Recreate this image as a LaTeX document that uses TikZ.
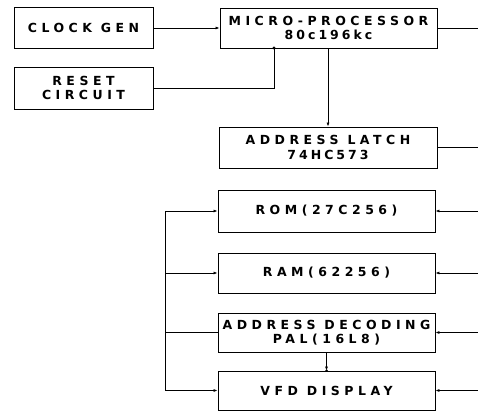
\documentclass[tikz,border=0pt]{standalone}
\usepackage{fontspec}
\usepackage{tikz}
\usetikzlibrary{
    arrows.meta,
    positioning
}
\newfontfamily\blkfont[LetterSpace=36]{DejaVu Sans}
\newfontfamily\partfont[LetterSpace=24]{DejaVu Sans}

\tikzset{
    blk/.style={draw, line width=0.9pt, inner sep=0pt, align=center,
        font=\blkfont\bfseries\fontsize{12.5}{14.5}\selectfont},
    wire/.style={line width=0.7pt},
    feed/.style={wire, -{Latex[length=4pt,width=3pt]}}
}
\newcommand{\partno}[1]{{\partfont #1}}

\begin{document}
\begin{tikzpicture}[x=1pt,y=-1pt]
\useasboundingbox (0,0) rectangle (478,411);

% left column
\node[blk, minimum width=139, minimum height=41] (clk) at (83.5,28) {CLOCK GEN};
\node[blk, minimum width=139, minimum height=42] (rst) at (83.5,88) {RESET\\CIRCUIT};

% main column
\node[blk, minimum width=217, minimum height=40] (mpu) at (328.5,28)
    {MICRO-PROCESSOR\\\partno{80c196kc}};
\node[blk, minimum width=218, minimum height=41] (latch) at (328,147.5)
    {ADDRESS LATCH\\\partno{74HC573}};
\node[blk, minimum width=217, minimum height=42] (rom) at (326.5,211) {ROM(27C256)};
\node[blk, minimum width=217, minimum height=40] (ram) at (326.5,273) {RAM(62256)};
\node[blk, minimum width=217, minimum height=39] (dec) at (326.5,332.5)
    {ADDRESS DECODING\\PAL(16L8)};
\node[blk, minimum width=217, minimum height=39] (vfd) at (326.5,390.5) {VFD DISPLAY};

% free ends
\coordinate (rstin) at (274,48);
\coordinate (bus) at (165,0);
\coordinate (edge) at (478,0);

% clock and reset
\draw[feed] (clk.east) -- (clk.east -| mpu.west);
\draw[wire] (rst.east) -| (rstin);
\fill (rstin) circle (1.6);

% processor to latch
\draw[feed] (mpu.south -| latch.north) -- (latch.north);

% right side
\draw[wire] (mpu.east) -- (mpu.east -| edge);
\draw[wire] (latch.east) -- (latch.east -| edge);
\foreach \b in {rom,ram,dec,vfd}{
    \draw[feed] (\b.east -| edge) -- (\b.east);
}

% left bus
\draw[feed] (bus |- vfd.west) |- (rom.west);
\draw[feed] (bus |- ram.west) -- (ram.west);
\draw[wire] (bus |- dec.west) -- (dec.west);
\draw[feed] (bus |- vfd.west) -- (vfd.west);

% decoder to display
\draw[feed] (dec.south) -- (vfd.north);
\fill (vfd.north) circle (1.3);

\end{tikzpicture}
\end{document}
